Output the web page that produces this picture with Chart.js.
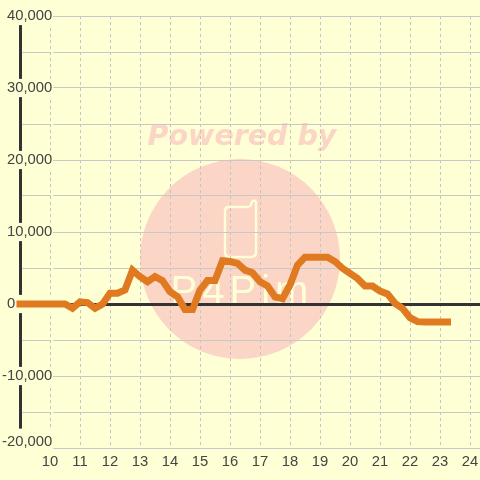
<!DOCTYPE html>
<html>
<head>
<meta charset="utf-8">
<style>
  html, body { margin: 0; padding: 0; background: #ffffd5; }
  #wrap { width: 480px; height: 480px; }
</style>
<script src="https://cdn.jsdelivr.net/npm/chart.js"></script>
</head>
<body>
<div id="wrap"><canvas id="chart"></canvas></div>
<script>
const hours = [9, 9.25, 9.5, 9.75, 10, 10.25, 10.5, 10.75, 11, 11.25, 11.5, 11.75,
  12, 12.25, 12.5, 12.75, 13, 13.25, 13.5, 13.75, 14, 14.25, 14.5, 14.75,
  15, 15.25, 15.5, 15.75, 16, 16.25, 16.5, 16.75, 17, 17.25, 17.5, 17.75,
  18, 18.25, 18.5, 18.75, 19, 19.25, 19.5, 19.75, 20, 20.25, 20.5, 20.75,
  21, 21.25, 21.5, 21.75, 22, 22.25, 22.5, 22.75, 23, 23.25]
const values = [0, 0, 0, 0, 0, 0, 0, -600, 300, 200, -600, 0,
  1500, 1500, 1950, 4700, 3800, 3100, 3800, 3250, 1700, 1000, -750, -750,
  1950, 3250, 3250, 6000, 5900, 5650, 4700, 4350, 3100, 2500, 1000, 750,
  2650, 5400, 6500, 6500, 6500, 6500, 5900, 4950, 4250, 3550, 2500, 2500,
  1800, 1400, 100, -600, -1900, -2450, -2500, -2500, -2500, -2500]
const hourTicks = [10, 11, 12, 13, 14, 15, 16, 17, 18, 19, 20, 21, 22, 23, 24]
const valueTicks = [40000, 35000, 30000, 25000, 20000, 15000, 10000, 5000, 0, -5000, -10000, -15000, -20000]
const bottomTick = [-20000]

const bg = '#ffffd5'
const pink = '#fbd5c5'
const labelFont = { family: '"Liberation Sans"', size: 14.8 }
const nbsp = n => '\u00a0'.repeat(n)

// the faded logo sits behind the grid
const watermark = {
    id: 'watermark',
    beforeDraw(chart) {
        const ctx = chart.ctx
        ctx.save()
        ctx.fillStyle = bg
        ctx.fillRect(0, 0, chart.width, chart.height)
        ctx.fillStyle = pink
        ctx.beginPath()
        ctx.arc(240, 259, 100, 0, Math.PI * 2)
        ctx.fill()
        ctx.font = 'italic bold 28.5px "DejaVu Sans"'
        ctx.textAlign = 'center'
        ctx.textBaseline = 'alphabetic'
        ctx.fillText('Powered by', 242, 145)
        ctx.strokeStyle = bg
        ctx.lineWidth = 2.5
        ctx.lineJoin = 'round'
        ctx.beginPath()
        ctx.moveTo(249, 207)
        ctx.lineTo(229, 207)
        ctx.quadraticCurveTo(225, 207, 225, 211)
        ctx.lineTo(225, 252)
        ctx.quadraticCurveTo(225, 257, 230, 257)
        ctx.lineTo(251, 257)
        ctx.quadraticCurveTo(256, 257, 256, 252)
        ctx.lineTo(256, 202)
        ctx.quadraticCurveTo(254, 199, 252, 202)
        ctx.lineTo(250, 207)
        ctx.stroke()
        ctx.fillStyle = bg
        ctx.font = '40px "Liberation Sans"'
        ctx.letterSpacing = '5px'
        ctx.fillText('P4Pim', 242, 304)
        ctx.restore()
    }
}

new Chart(document.getElementById('chart'), {
    type: 'line',
    plugins: [watermark],
    data: {
        labels: hours,
        datasets: [{
            data: values,
            borderColor: '#e07a20',
            borderWidth: 7,
            borderCapStyle: 'square',
            pointRadius: 0,
            tension: 0,
            clip: false
        }]
    },
    options: {
        responsive: true,
        maintainAspectRatio: false,
        animation: false,
        layout: { padding: { left: 20, top: 16, right: 0, bottom: 0 } },
        plugins: { legend: { display: false }, tooltip: { enabled: false } },
        scales: {
            x: {
                type: 'linear',
                min: 9,
                max: 24.3333,
                afterBuildTicks(axis) { axis.ticks = hourTicks.map(v => ({ value: v })) },
                afterFit(axis) {
                    axis.height = 32
                    axis.paddingLeft = 0
                    axis.paddingRight = 0
                },
                grid: { color: '#c4c4c4', lineWidth: 1, drawTicks: false },
                border: { display: false, dash: [3, 3] },
                ticks: {
                    autoSkip: false,
                    maxRotation: 0,
                    padding: 5,
                    color: '#444',
                    font: labelFont,
                    callback: v => String(v)
                }
            },
            y: {
                min: -20000,
                max: 40000,
                afterBuildTicks(axis) { axis.ticks = valueTicks.map(v => ({ value: v })) },
                afterFit(axis) { axis.width = 0 },
                grid: {
                    drawTicks: false,
                    color: c => c.tick.value === 0 ? '#333' : '#c8c8c8',
                    lineWidth: c => c.tick.value === 0 ? 3 : 1
                },
                border: { color: '#333', width: 3 },
                ticks: {
                    mirror: true,
                    crossAlign: 'far',
                    padding: -18,
                    color: '#444',
                    showLabelBackdrop: true,
                    backdropColor: bg,
                    backdropPadding: 1,
                    font: c => ({ ...labelFont, lineHeight: c.tick && c.tick.value === -20000 ? 0.82 : 1.1 }),
                    callback(v) {
                        if (v % 10000 !== 0) return ''
                        if (v === 0) return '0' + nbsp(9)
                        // the bottom label itself comes from yBottom, this one only masks the axis behind it
                        if (v === -20000) return [nbsp(12), nbsp(12)]
                        return v.toLocaleString('en-US')
                    }
                }
            },
            // same range as y, holds only the bottom label which sits above its grid line
            yBottom: {
                position: 'left',
                min: -20000,
                max: 40000,
                afterBuildTicks(axis) { axis.ticks = bottomTick.map(v => ({ value: v })) },
                afterFit(axis) { axis.width = 0 },
                grid: { display: false },
                border: { display: false },
                ticks: {
                    z: 1,
                    mirror: true,
                    crossAlign: 'far',
                    padding: -18,
                    color: '#444',
                    font: { ...labelFont, lineHeight: 0.82 },
                    callback: v => [v.toLocaleString('en-US'), '']
                }
            }
        }
    }
})
</script>
</body>
</html>
